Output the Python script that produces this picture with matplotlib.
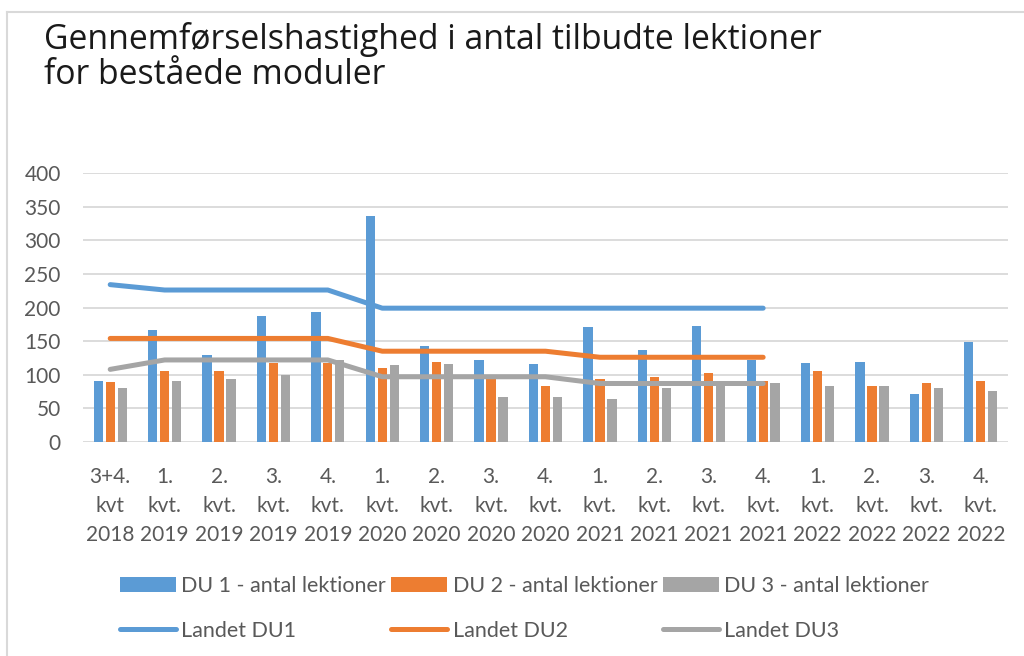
import matplotlib.pyplot as plt
import numpy as np
from matplotlib.lines import Line2D

plt.rcParams['font.family'] = ['Lato', 'DejaVu Sans']

quarters = ["3+4.\nkvt\n2018", "1.\nkvt.\n2019", "2.\nkvt.\n2019", "3.\nkvt.\n2019", "4.\nkvt.\n2019",
            "1.\nkvt.\n2020", "2.\nkvt.\n2020", "3.\nkvt.\n2020", "4.\nkvt.\n2020",
            "1.\nkvt.\n2021", "2.\nkvt.\n2021", "3.\nkvt.\n2021", "4.\nkvt.\n2021",
            "1.\nkvt.\n2022", "2.\nkvt.\n2022", "3.\nkvt.\n2022", "4.\nkvt.\n2022"]

du1 = [90, 167, 130, 187, 194, 336, 143, 122, 116, 171, 137, 173, 122, 117, 119, 72, 148]
du2 = [89, 105, 105, 118, 118, 110, 119, 94, 83, 94, 96, 103, 90, 106, 83, 87, 91]
du3 = [80, 91, 93, 99, 122, 115, 116, 67, 67, 64, 80, 85, 88, 84, 83, 80, 76]

landet_du1 = [234, 226, 226, 226, 226, 199, 199, 199, 199, 199, 199, 199, 199]
landet_du2 = [154, 154, 154, 154, 154, 135, 135, 135, 135, 126, 126, 126, 126]
landet_du3 = [108, 122, 122, 122, 122, 97, 97, 97, 97, 87, 87, 87, 87]

blue, orange, gray = '#5B9BD5', '#ED7D31', '#A5A5A5'
text_color = '#595959'

fig = plt.figure(figsize=(10.24, 6.56), dpi=100)
ax = fig.add_axes([83 / 1024, 1 - 442 / 656, (1008 - 83) / 1024, (442 - 173) / 656])

x = np.arange(len(quarters))
w = 0.17
off = 0.22
b1 = ax.bar(x - off, du1, w, color=blue, zorder=2)
b2 = ax.bar(x, du2, w, color=orange, zorder=2)
b3 = ax.bar(x + off, du3, w, color=gray, zorder=2)

xl = np.arange(len(landet_du1))
l1, = ax.plot(xl, landet_du1, color=blue, lw=3.6, solid_capstyle='round', solid_joinstyle='round', zorder=3)
l2, = ax.plot(xl, landet_du2, color=orange, lw=3.6, solid_capstyle='round', solid_joinstyle='round', zorder=3)
l3, = ax.plot(xl, landet_du3, color=gray, lw=3.6, solid_capstyle='round', solid_joinstyle='round', zorder=3)

ax.set_xlim(-0.5, len(quarters) - 0.5)
ax.set_ylim(0, 400)
ax.set_yticks(range(0, 401, 50))
ax.yaxis.grid(True, color='#D9D9D9', lw=1.3, zorder=0)
ax.set_axisbelow(True)
for s in ax.spines.values():
    s.set_visible(False)
ax.set_xticks(x)
ax.set_xticklabels(quarters, linespacing=1.55)
ax.tick_params(axis='both', length=0, labelsize=15, colors=text_color)
ax.tick_params(axis='x', pad=18)
ax.tick_params(axis='y', pad=16)

fig.text(44 / 1024, 1 - 22 / 656, "Gennemførselshastighed i antal tilbudte lektioner\nfor beståede moduler",
         fontsize=24.3, color='#1a1a1a', va='top', ha='left', linespacing=1.04, family='Open Sans')

handles = [b1, l1, b2, l2, b3, l3]
labels = ["DU 1 - antal lektioner", "Landet DU1", "DU 2 - antal lektioner", "Landet DU2",
          "DU 3 - antal lektioner", "Landet DU3"]
leg = fig.legend(handles, labels, ncol=3, loc='upper left', bbox_to_anchor=(120 / 1024, 1 - 576 / 656),
                 frameon=False, fontsize=15.5, handlelength=2.6, handletextpad=0.25, columnspacing=0.25,
                 labelspacing=1.15, borderpad=0, borderaxespad=0)
for t in leg.get_texts():
    t.set_color(text_color)

# chart border
fig.add_artist(Line2D([7 / 1024, 7 / 1024], [0, 1 - 12 / 656], color='#D9D9D9', lw=1.5, transform=fig.transFigure))
fig.add_artist(Line2D([7 / 1024, 1], [1 - 12 / 656, 1 - 12 / 656], color='#D9D9D9', lw=1.5, transform=fig.transFigure))

fig.savefig('out.png', dpi=100)
